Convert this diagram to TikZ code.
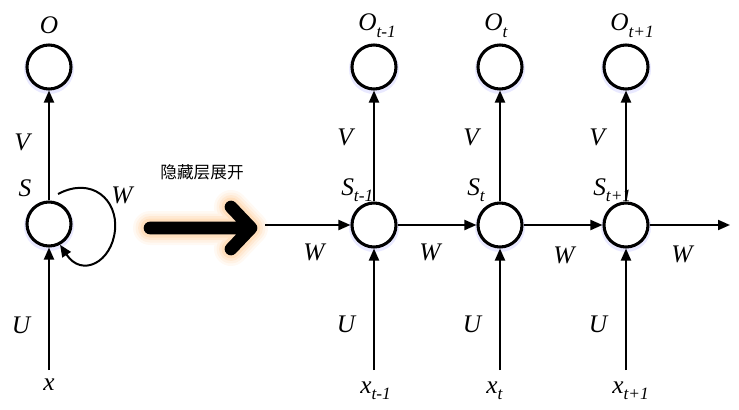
\documentclass[tikz,border=0pt]{standalone}
\usepackage{fontspec}
\setmainfont{Liberation Serif}
\newfontfamily\cjk{Noto Sans CJK SC}
\usetikzlibrary{arrows.meta}
\begin{document}
\begin{tikzpicture}[x=0.75pt,y=-0.75pt,
  unit/.style={circle,draw=black,line width=2.3pt,minimum size=33pt,inner sep=0pt,fill=white},
  lbl/.style={font=\fontsize{19}{20}\selectfont\itshape,inner sep=0pt},
  conn/.style={line width=1.5pt,-{Triangle[length=9pt,width=7.5pt]}},
  glow/.style={line cap=round,line join=round,draw=orange!45!white}
]
\useasboundingbox (0,0) rectangle (739,410);
% ---- folded network ----
\foreach \n/\x/\y in {O/49/67,S/49/224}{
  \fill[blue!25,opacity=0.35] (\x,\y+2) circle (25);
}
\node[unit] (O) at (49,67) {};
\node[unit] (S) at (49,224) {};
\node[lbl] (lO) at (49,25) {O};
\node[lbl] (lV) at (22,142) {V};
\node[lbl] (lS) at (25,188) {S};
\node[lbl] (lW) at (122,195) {W};
\node[lbl] (lU) at (21,325) {U};
\node[lbl] (lx) at (49,385) {x};
\coordinate (xin) at (49,370);
\coordinate (loopstart) at (58,194);
\draw[conn] (S) -- (O);
\draw[conn] (xin) -- (S);
\draw[line width=1.5pt,-{Triangle[length=9pt,width=7.5pt]}] (loopstart) .. controls (92,176) and (118,200) .. (115,230) .. controls (112,262) and (82,278) .. (S.-62);
% ---- big arrow ----
\foreach \w/\o in {34/0.10,29/0.14,24/0.2,19/0.3}{
  \draw[glow,line width=\w*0.75pt,opacity=\o] (150,228) -- (251,228) (231,207) -- (251,228) -- (231,249);
}
\draw[line cap=round,line join=round,line width=9.5pt] (150,228) -- (251,228) (231,207) -- (251,228) -- (231,249);
\node[font=\cjk\fontsize{12.5}{14}\selectfont,inner sep=0pt] (title) at (202,172) {隐藏层展开};
% ---- unfolded network ----
\foreach \i/\x in {a/374,b/500,c/626}{
  \fill[blue!25,opacity=0.35] (\x,69) circle (25);
  \fill[blue!25,opacity=0.35] (\x,227) circle (25);
}
\foreach \i/\x/\sub in {a/374/t-1,b/500/t,c/626/t+1}{
  \node[unit] (O\i) at (\x,67) {};
  \node[unit] (S\i) at (\x,225) {};
  \coordinate (x\i) at (\x,370);
  \draw[conn] (S\i) -- (O\i);
  \draw[conn] (x\i) -- (S\i);
  \node[lbl,anchor=base west] (lO\i) at (\x-16,31) {O\raisebox{-0.25em}{\fontsize{13}{14}\selectfont \sub}};
  \node[lbl] (lV\i) at (\x-29,137) {V};
  \node[lbl,anchor=base west] (lS\i) at (\x-33,195) {S\raisebox{-0.25em}{\fontsize{13}{14}\selectfont \sub}};
  \node[lbl] (lU\i) at (\x-28,324) {U};
  \node[lbl,anchor=base west] (lx\i) at (\x-14,393) {x\raisebox{-0.25em}{\fontsize{13}{14}\selectfont \sub}};
}
\coordinate (hin) at (265,225);
\coordinate (hout) at (730,225);
\draw[conn] (hin) -- (Sa);
\draw[conn] (Sa) -- (Sb);
\draw[conn] (Sb) -- (Sc);
\draw[conn] (Sc) -- (hout);
\node[lbl] (lW1) at (314,252) {W};
\node[lbl] (lW2) at (430,252) {W};
\node[lbl] (lW3) at (564,255) {W};
\node[lbl] (lW4) at (682,254) {W};
\end{tikzpicture}
\end{document}
